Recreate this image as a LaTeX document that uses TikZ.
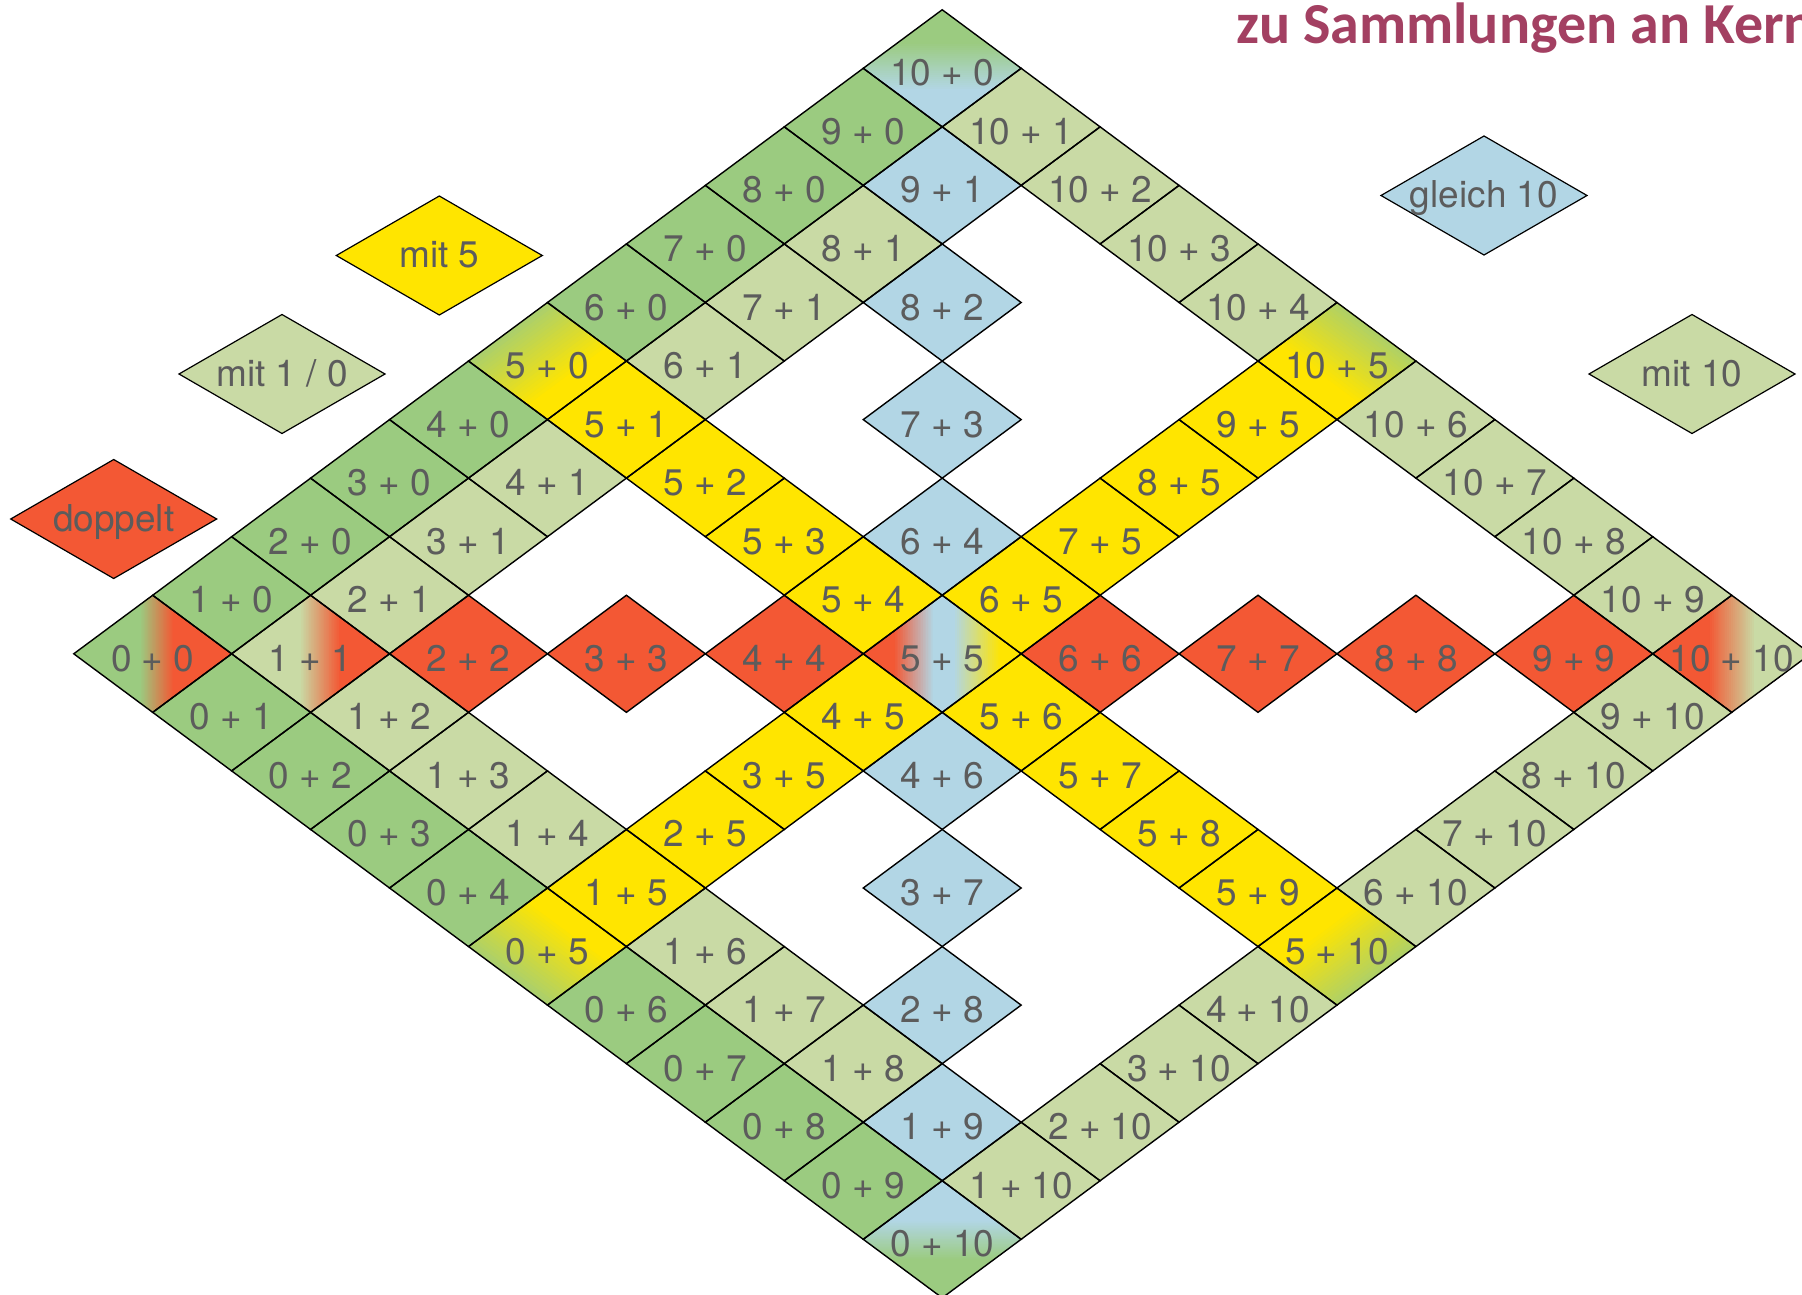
\documentclass[tikz,border=0pt]{standalone}
\usepackage{fontspec}
\setmainfont{TeX Gyre Heros}
\newfontfamily\titlefont{Carlito}
\definecolor{cdkgreen}{RGB}{155,203,128}
\definecolor{cltgreen}{RGB}{201,218,165}
\definecolor{cyellow}{RGB}{255,229,0}
\definecolor{cred}{RGB}{243,88,52}
\definecolor{cblue}{RGB}{178,214,229}
\definecolor{ctext}{RGB}{92,92,92}
\definecolor{ctitle}{RGB}{163,64,98}
\tikzset{
  celledge/.style={draw=black, line width=1.4pt, line join=miter},
  celltext/.style={text=ctext, font=\fontsize{37}{40}\selectfont, inner sep=0pt, anchor=base, yshift=-17.5pt},
  legendshape/.style={draw=black, line width=1.2pt, line join=miter},
  legendtext/.style={text=ctext, font=\fontsize{37}{40}\selectfont, inner sep=0pt, anchor=base, yshift=-12pt},
  titletext/.style={text=ctitle, font=\titlefont\bfseries\fontsize{58}{60}\selectfont, inner sep=0pt, anchor=base west},
}
\newcommand\putcell[3]{\fill[#3] (#1-0.5,#2-0.5) -- (#1+0.5,#2-0.5) -- (#1+0.5,#2+0.5) -- (#1-0.5,#2+0.5) -- cycle;}
\newcommand\edgecell[2]{\draw[celledge] (#1-0.5,#2-0.5) -- (#1+0.5,#2-0.5) -- (#1+0.5,#2+0.5) -- (#1-0.5,#2+0.5) -- cycle;}
\newcommand\hpfillH[2]{\fill[#2] (#1-2,2) -- (#1+2,-2) -- (#1+5,1) -- (#1+1,5) -- cycle;}
\newcommand\hpfillV[2]{\fill[#2] (-2,#1-2) -- (2,#1+2) -- (-1,#1+5) -- (-5,#1+1) -- cycle;}
\newcommand\hpfillA[2]{\fill[#2] (#1,-2) -- (3,-2) -- (3,2) -- (#1,2) -- cycle;}
\newcommand\hpfillB[2]{\fill[#2] (-2,#1) -- (2,#1) -- (2,3) -- (-2,3) -- cycle;}
\newcommand\gradbands[7]{%
  \begin{scope}[shift={(#1,#2)}]
    \clip (-0.5,-0.5) -- (0.5,-0.5) -- (0.5,0.5) -- (-0.5,0.5) -- cycle;
    \foreach \k in {0,...,24}{%
      \pgfmathsetmacro\myt{(#5)+((#6)-(#5))*\k/24}%
      \pgfmathtruncatemacro\mypp{100*\k/24}%
      \csname hpfill#7\endcsname{\myt}{#4!\mypp!#3}%
    }
  \end{scope}}
\newcommand\gradcell[7]{\putcell{#1}{#2}{#3}\gradbands{#1}{#2}{#3}{#4}{#5}{#6}{#7}}
\newcommand\legendbox[5]{%
  \begin{scope}[shift={(#2pt,-#3pt)}]
    \filldraw[legendshape,fill=#4] (-103pt,0pt) -- (0pt,59.5pt) -- (103pt,0pt) -- (0pt,-59.5pt) -- cycle;
    \node[legendtext] (#1) at (0pt,0pt) {#5};
  \end{scope}}
\def\allcells{0/0,1/0,2/0,3/0,4/0,5/0,6/0,7/0,8/0,9/0,10/0,
  0/1,0/2,0/3,0/4,0/5,0/6,0/7,0/8,0/9,0/10,
  10/1,10/2,10/3,10/4,10/5,10/6,10/7,10/8,10/9,10/10,
  1/10,2/10,3/10,4/10,5/10,6/10,7/10,8/10,9/10,
  1/1,1/2,1/3,1/4,1/5,1/6,1/7,1/8,1/9,
  2/1,3/1,4/1,5/1,6/1,7/1,8/1,9/1,
  5/2,5/3,5/4,5/5,5/6,5/7,5/8,5/9,
  2/5,3/5,4/5,6/5,7/5,8/5,9/5,
  2/2,3/3,4/4,6/6,7/7,8/8,9/9,
  8/2,7/3,6/4,4/6,3/7,2/8}
\begin{document}
\begin{tikzpicture}
\path[use as bounding box] (0pt,0pt) rectangle (1802pt,-1295pt);
\clip (0pt,0pt) rectangle (1802pt,-1295pt);
\fill[white] (0pt,0pt) rectangle (1802pt,-1295pt);
\begin{scope}[shift={(152.7pt,-653.8pt)}, x={(78.95pt,58.55pt)}, y={(78.95pt,-58.55pt)}]
  % plain cells
  \foreach \ia/\ib in {1/0,2/0,3/0,4/0,6/0,7/0,8/0,9/0,0/1,0/2,0/3,0/4,0/6,0/7,0/8,0/9}
    {\putcell{\ia}{\ib}{cdkgreen}}
  \foreach \ia/\ib in {1/2,1/3,1/4,1/6,1/7,1/8,1/10,2/1,3/1,4/1,6/1,7/1,8/1,10/1,10/2,10/3,10/4,10/6,10/7,10/8,10/9,2/10,3/10,4/10,6/10,7/10,8/10,9/10}
    {\putcell{\ia}{\ib}{cltgreen}}
  \foreach \ia/\ib in {5/1,5/2,5/3,5/4,5/6,5/7,5/8,5/9,1/5,2/5,3/5,4/5,6/5,7/5,8/5,9/5}
    {\putcell{\ia}{\ib}{cyellow}}
  \foreach \ia/\ib in {2/2,3/3,4/4,6/6,7/7,8/8,9/9}
    {\putcell{\ia}{\ib}{cred}}
  \foreach \ia/\ib in {9/1,8/2,7/3,6/4,4/6,3/7,2/8,1/9}
    {\putcell{\ia}{\ib}{cblue}}
  % blended cells
  \gradcell{0}{0}{cdkgreen}{cred}{-0.165}{0.253}{H}
  \gradcell{1}{1}{cltgreen}{cred}{-0.14}{0.36}{H}
  \gradcell{10}{10}{cred}{cltgreen}{-0.3}{0.28}{H}
  \gradcell{5}{5}{cred}{cblue}{-0.62}{-0.12}{H}
  \gradbands{5}{5}{cblue}{cyellow}{0.14}{0.73}{H}
  \gradcell{10}{0}{cdkgreen}{cblue}{-0.45}{0.35}{V}
  \gradcell{0}{10}{cblue}{cdkgreen}{-0.33}{0.33}{V}
  \gradcell{5}{0}{cdkgreen}{cyellow}{-0.65}{0.25}{B}
  \gradcell{0}{5}{cdkgreen}{cyellow}{-0.65}{0.25}{A}
  \gradcell{10}{5}{cyellow}{cdkgreen}{-0.25}{0.65}{A}
  \gradcell{5}{10}{cyellow}{cdkgreen}{-0.25}{0.65}{B}
  % edges
  \foreach \ia/\ib in \allcells {\edgecell{\ia}{\ib}}
  % labels
  \foreach \ia/\ib in \allcells {\node[celltext] (c\ia-\ib) at (\ia,\ib) {\ia{} + \ib};}
\end{scope}
\legendbox{lgmit5}{439.3}{255.5}{cyellow}{mit 5}
\legendbox{lgmit10}{282}{374}{cltgreen}{mit 1 / 0}
\legendbox{lgdoppelt}{113.7}{519}{cred}{doppelt}
\legendbox{lggleich}{1484}{195.5}{cblue}{gleich 10}
\legendbox{lgmitzehn}{1692}{374}{cltgreen}{mit 10}
\node[titletext] (title) at (1236pt,-43.3pt) {zu Sammlungen an Kern};
\end{tikzpicture}
\end{document}
